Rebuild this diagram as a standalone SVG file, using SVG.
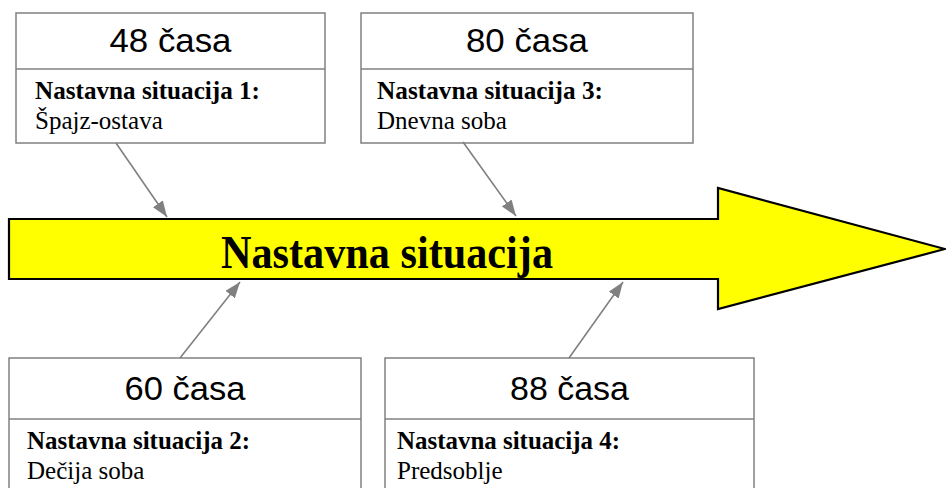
<svg xmlns="http://www.w3.org/2000/svg" width="946" height="488" viewBox="0 0 946 488">
<style>
.box{fill:#fff;stroke:#808080;stroke-width:1.5}
.hrs{font-family:"Liberation Sans",Arial,sans-serif;font-size:34px;fill:#000;text-anchor:middle}
.lbl{font-family:"Liberation Serif","Times New Roman",serif;font-size:25px;font-weight:bold;fill:#000}
.sub{font-family:"Liberation Serif","Times New Roman",serif;font-size:25px;fill:#000}
.title{font-family:"Liberation Serif","Times New Roman",serif;font-size:47px;font-weight:bold;fill:#000}
.conn{stroke:#808080;stroke-width:1.6;fill:none}
</style>
<defs>
<marker id="ah2" viewBox="0 0 16 12" refX="16" refY="6" markerWidth="16" markerHeight="12" markerUnits="userSpaceOnUse" orient="auto">
<path d="M0,0 L16,6 L0,12 z" fill="#808080"/>
</marker>
</defs>
<g id="arrow">
<polygon points="9,219 718,219 718,188 945,249 718,309 718,279 9,279" fill="#ffff00" stroke="#000" stroke-width="2.2" stroke-linejoin="miter"/>
<text class="title" x="221" y="268" textLength="332" lengthAdjust="spacingAndGlyphs">Nastavna situacija</text>
</g>
<g id="node1">
<rect class="box" x="16" y="13" width="309" height="130"/>
<line class="box" x1="16" y1="69" x2="325" y2="69"/>
<text class="hrs" x="170.5" y="52" textLength="122" lengthAdjust="spacingAndGlyphs">48 časa</text>
<text class="lbl" x="35" y="99" textLength="225" lengthAdjust="spacingAndGlyphs">Nastavna situacija 1:</text>
<text class="sub" x="35" y="129">Špajz-ostava</text>
</g>
<g id="node3">
<rect class="box" x="361" y="13" width="332" height="130"/>
<line class="box" x1="361" y1="69" x2="693" y2="69"/>
<text class="hrs" x="527" y="52" textLength="122" lengthAdjust="spacingAndGlyphs">80 časa</text>
<text class="lbl" x="377" y="99" textLength="226" lengthAdjust="spacingAndGlyphs">Nastavna situacija 3:</text>
<text class="sub" x="377" y="129">Dnevna soba</text>
</g>
<g id="node2">
<rect class="box" x="9" y="358" width="352" height="150"/>
<line class="box" x1="9" y1="419" x2="361" y2="419"/>
<text class="hrs" x="185" y="400" textLength="121" lengthAdjust="spacingAndGlyphs">60 časa</text>
<text class="lbl" x="27" y="449" textLength="223" lengthAdjust="spacingAndGlyphs">Nastavna situacija 2:</text>
<text class="sub" x="27" y="479">Dečija soba</text>
</g>
<g id="node4">
<rect class="box" x="385" y="358" width="369" height="150"/>
<line class="box" x1="385" y1="419" x2="754" y2="419"/>
<text class="hrs" x="569.5" y="400" textLength="119" lengthAdjust="spacingAndGlyphs">88 časa</text>
<text class="lbl" x="397" y="449" textLength="223" lengthAdjust="spacingAndGlyphs">Nastavna situacija 4:</text>
<text class="sub" x="397" y="479">Predsoblje</text>
</g>
<g id="connectors">
<line class="conn" x1="116" y1="143" x2="167" y2="217" marker-end="url(#ah2)"/>
<line class="conn" x1="463" y1="142" x2="516" y2="216" marker-end="url(#ah2)"/>
<line class="conn" x1="180" y1="358" x2="240" y2="282" marker-end="url(#ah2)"/>
<line class="conn" x1="569" y1="358" x2="623" y2="282" marker-end="url(#ah2)"/>
</g>
</svg>
